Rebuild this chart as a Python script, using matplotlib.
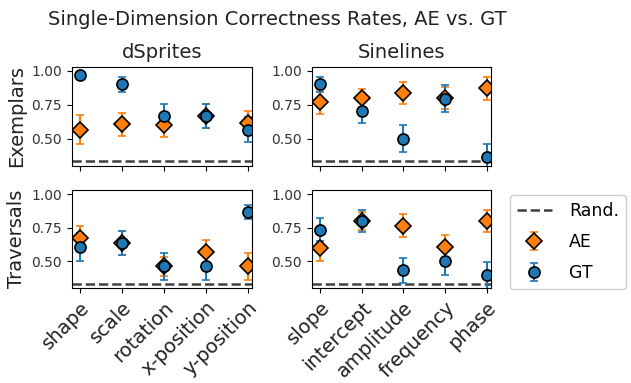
import numpy as np
import matplotlib.pyplot as plt

# dados
dsprites_factors = ['shape', 'scale', 'rotation', 'x-position', 'y-position']
sinelines_factors = ['slope', 'intercept', 'amplitude', 'frequency', 'phase']
rand_level = 1.0 / 3.0

# Exemplars
ds_ex_ae = [0.567, 0.607, 0.600, 0.667, 0.617]
ds_ex_ae_err = [0.105, 0.085, 0.085, 0.09, 0.09]
ds_ex_gt = [0.967, 0.900, 0.667, 0.667, 0.567]
ds_ex_gt_err = [0.02, 0.055, 0.09, 0.09, 0.09]

sl_ex_ae = [0.770, 0.800, 0.837, 0.800, 0.870]
sl_ex_ae_err = [0.09, 0.065, 0.08, 0.08, 0.085]
sl_ex_gt = [0.900, 0.707, 0.500, 0.795, 0.368]
sl_ex_gt_err = [0.055, 0.095, 0.10, 0.10, 0.09]

# Traversals
ds_tr_ae = [0.672, 0.635, 0.463, 0.567, 0.463]
ds_tr_ae_err = [0.09, 0.09, 0.07, 0.09, 0.10]
ds_tr_gt = [0.606, 0.635, 0.463, 0.463, 0.867]
ds_tr_gt_err = [0.105, 0.09, 0.10, 0.10, 0.055]

sl_tr_ae = [0.603, 0.800, 0.764, 0.606, 0.800]
sl_tr_ae_err = [0.10, 0.07, 0.085, 0.09, 0.085]
sl_tr_gt = [0.734, 0.800, 0.433, 0.502, 0.397]
sl_tr_gt_err = [0.085, 0.085, 0.095, 0.10, 0.10]

fig = plt.figure(figsize=(6.31, 3.83), dpi=100)

posicoes = [
    [0.114, 0.567, 0.285, 0.259],
    [0.494, 0.567, 0.284, 0.259],
    [0.114, 0.247, 0.285, 0.257],
    [0.494, 0.247, 0.284, 0.257],
]

paineis = [
    (dsprites_factors, ds_ex_ae, ds_ex_ae_err, ds_ex_gt, ds_ex_gt_err),
    (sinelines_factors, sl_ex_ae, sl_ex_ae_err, sl_ex_gt, sl_ex_gt_err),
    (dsprites_factors, ds_tr_ae, ds_tr_ae_err, ds_tr_gt, ds_tr_gt_err),
    (sinelines_factors, sl_tr_ae, sl_tr_ae_err, sl_tr_gt, sl_tr_gt_err),
]

eixos = []
for i, (pos, (fatores, ae, ae_err, gt, gt_err)) in enumerate(zip(posicoes, paineis)):
    ax = fig.add_axes(pos)
    x = np.arange(len(fatores))
    h_rand = ax.axhline(rand_level, color='#404040', linestyle='--', lw=1.8, label='Rand.')
    h_ae = ax.errorbar(x, ae, yerr=ae_err, fmt='D', color='#ff7f0e', ms=8,
                       mec='black', mew=1.2, capsize=3, elinewidth=1.5,
                       ecolor='#ff7f0e', label='AE')
    h_gt = ax.errorbar(x, gt, yerr=gt_err, fmt='o', color='#1f77b4', ms=8,
                       mec='black', mew=1.2, capsize=3, elinewidth=1.5,
                       ecolor='#1f77b4', label='GT')
    ax.set_ylim(0.30, 1.03)
    ax.set_xlim(-0.2, 4.1)
    ax.set_yticks([0.5, 0.75, 1.0])
    ax.set_yticklabels(['0.50', '0.75', '1.00'])
    ax.tick_params(axis='y', labelsize=10, colors='black', labelcolor='#333333')
    ax.set_xticks(x)
    if i >= 2:
        ax.set_xticklabels(fatores, rotation=45, ha='right', rotation_mode='anchor',
                           fontsize=14, color='#222222')
    else:
        ax.set_xticklabels([])
    eixos.append(ax)

eixos[0].set_title('dSprites', fontsize=14, color='#222222')
eixos[1].set_title('Sinelines', fontsize=14, color='#222222')
eixos[0].set_ylabel('Exemplars', fontsize=14, color='#222222')
eixos[2].set_ylabel('Traversals', fontsize=14, color='#222222')

fig.suptitle('Single-Dimension Correctness Rates, AE vs. GT', fontsize=14,
             x=0.44, y=0.975, color='#222222')

fig.legend([h_rand, h_ae, h_gt], ['Rand.', 'AE', 'GT'], loc='upper left',
           bbox_to_anchor=(0.808, 0.491), borderaxespad=0, fontsize=12.5,
           handlelength=2.0, handletextpad=1.0, labelspacing=0.75, framealpha=1)

fig.savefig('out.png', dpi=100)
